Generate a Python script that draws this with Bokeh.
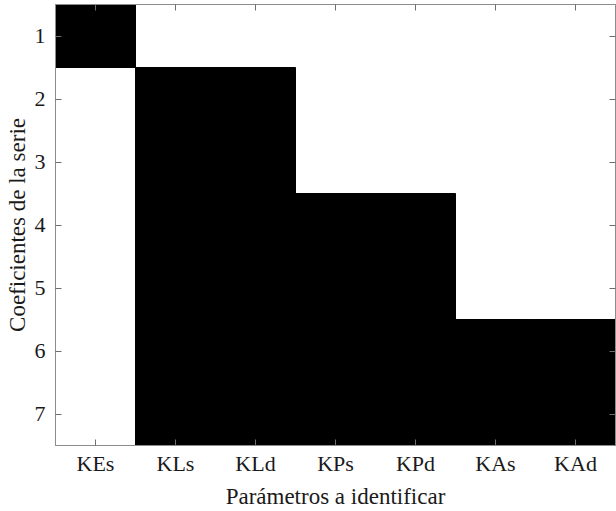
from bokeh.plotting import figure
from bokeh.models import ColumnDataSource, FixedTicker, LinearAxis, Range1d
from bokeh.embed import file_html
from bokeh.resources import INLINE

params = ["KEs", "KLs", "KLd", "KPs", "KPd", "KAs", "KAd"]
coefs = [1, 2, 3, 4, 5, 6, 7]
row1 = [1, 0, 0, 0, 0, 0, 0]
row2 = [0, 1, 1, 0, 0, 0, 0]
row3 = [0, 1, 1, 0, 0, 0, 0]
row4 = [0, 1, 1, 1, 1, 0, 0]
row5 = [0, 1, 1, 1, 1, 0, 0]
row6 = [0, 1, 1, 1, 1, 1, 1]
row7 = [0, 1, 1, 1, 1, 1, 1]
matrix = [row1, row2, row3, row4, row5, row6, row7]

xs, ys = [], []
for j, row in enumerate(matrix):
    for i, v in enumerate(row):
        if v:
            xs.append(i + 1)
            ys.append(coefs[j])
src = ColumnDataSource(dict(x=xs, y=ys))

FONT = "Liberation Serif"
p = figure(width=616, height=511, output_backend="svg", toolbar_location=None,
           x_range=Range1d(0.5, 7.5), y_range=Range1d(7.5, 0.5),
           min_border_left=55, min_border_right=1, min_border_top=4, min_border_bottom=64)
p.rect(x="x", y="y", width=1, height=1, fill_color="#000000", line_color="#000000",
       line_width=1, dilate=True, source=src)
p.grid.visible = False
p.outline_line_color = "#8c8c8c"
p.background_fill_color = "white"

ticks_x = list(range(1, 8))
p.xaxis.ticker = FixedTicker(ticks=ticks_x)
p.xaxis.major_label_overrides = {i + 1: s for i, s in enumerate(params)}
p.yaxis.ticker = FixedTicker(ticks=coefs)
p.xaxis.axis_label = "Parámetros a identificar"
p.yaxis.axis_label = "Coeficientes de la serie"

ax_top = LinearAxis(ticker=FixedTicker(ticks=ticks_x),
                    major_label_overrides={t: "" for t in ticks_x})
ax_right = LinearAxis(ticker=FixedTicker(ticks=coefs),
                      major_label_overrides={t: "" for t in coefs})
p.add_layout(ax_top, "above")
p.add_layout(ax_right, "right")

for ax in p.xaxis + p.yaxis + [ax_top, ax_right]:
    ax.axis_line_color = "#8c8c8c"
    ax.major_tick_line_color = "#6e6e6e"
    ax.major_tick_in = 6
    ax.major_tick_out = 0
    ax.minor_tick_line_color = None
    ax.major_label_text_font = FONT
    ax.major_label_text_font_size = "22px"
    ax.major_label_text_color = "#1a1a1a"
    ax.axis_label_text_font = FONT
    ax.axis_label_text_font_size = "23px"
    ax.axis_label_text_font_style = "normal"
    ax.axis_label_text_color = "#1a1a1a"
for ax in [ax_top, ax_right]:
    ax.major_label_standoff = 0
p.xaxis[0].major_label_standoff = 17
p.yaxis[0].major_label_standoff = 10
p.xaxis[0].axis_label_standoff = -5
p.yaxis[0].axis_label_standoff = 2

open("out.html", "w").write(file_html(p, INLINE))
